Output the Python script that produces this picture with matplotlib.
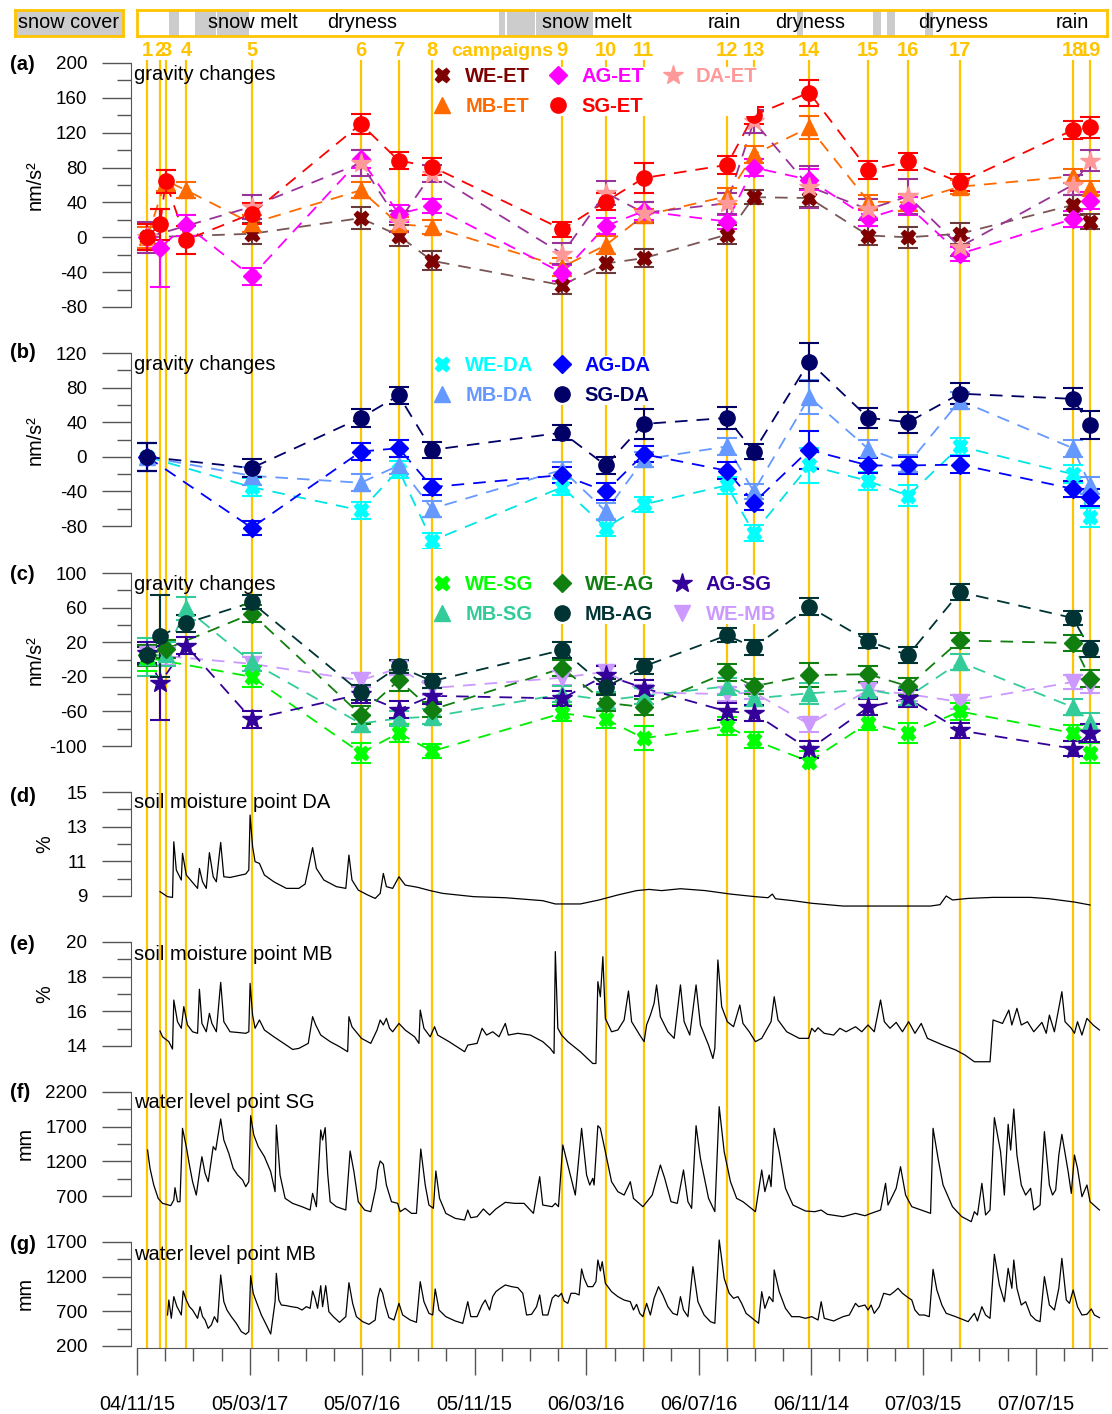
import numpy as np
import pandas as pd
import matplotlib
matplotlib.use("Agg")
import matplotlib.pyplot as plt
from matplotlib.lines import Line2D

plt.rcParams['font.family'] = ['Liberation Sans', 'DejaVu Sans']
plt.rcParams['axes.unicode_minus'] = False

nan = np.nan
t0 = pd.Timestamp('2004-11-15')

# ---------------- data ----------------
campaign_labels = [str(i) for i in range(1, 20)]
campaign_dates = pd.to_datetime([
    '2004-11-26', '2004-12-10', '2004-12-16', '2005-01-07', '2005-03-19',
    '2005-07-15', '2005-08-25', '2005-09-30', '2006-02-18', '2006-04-06',
    '2006-05-17', '2006-08-15', '2006-09-13', '2006-11-12', '2007-01-15',
    '2007-02-27', '2007-04-24', '2007-08-24', '2007-09-12'])

snow_start = pd.to_datetime(['2004-12-20', '2005-01-17', '2005-02-09', '2005-12-11',
                             '2005-12-20', '2006-01-21', '2006-02-17', '2006-10-30',
                             '2007-01-20', '2007-02-04', '2007-03-17'])
snow_end = pd.to_datetime(['2004-12-30', '2005-02-08', '2005-03-16', '2005-12-18',
                           '2006-01-19', '2006-02-16', '2006-03-23', '2006-11-05',
                           '2007-01-29', '2007-02-13', '2007-03-26'])
season_names = ['snow melt', 'dryness', 'snow melt', 'rain', 'dryness', 'dryness', 'rain']
season_dates = pd.to_datetime(['2005-03-20', '2005-07-17', '2006-03-16', '2006-08-12',
                               '2006-11-13', '2007-04-17', '2007-08-24'])

tick_labels = ['04/11/15', '05/03/17', '05/07/16', '05/11/15', '06/03/16',
               '06/07/16', '06/11/14', '07/03/15', '07/07/15']

# (a) gravity changes relative to ET, nm/s2, one value per campaign
we_et = [0, nan, nan, nan, 4, 22, 2, -27, -55, -30, -24, 3, 46, 45, 2, 0, 4, 37, 18]
ag_et = [0, -12, nan, 14, -45, 90, 27, 36, -41, 13, 30, 18, 80, 66, 22, 36, -19, 21, 42]
da_et = [0, nan, nan, nan, 35, 85, 18, 73, -19, 51, 28, 39, 133, 58, 32, 47, -11, 60, 88]
mb_et = [0, nan, 65, 54, 16, 54, 15, 12, -34, -9, 25, 47, 95, 126, 41, 40, 58, 70, 56]
sg_et = [0, 15, 64, -3, 27, 130, 88, 81, 9, 41, 68, 83, 140, 166, 77, 87, 63, 123, 126]
we_et_err = [15, 0, 0, 0, 12, 13, 12, 11, 10, 11, 10, 11, 8, 10, 11, 12, 12, 11, 9]
ag_et_err = [15, 45, 0, 12, 10, 10, 10, 8, 9, 9, 10, 8, 10, 12, 9, 10, 8, 9, 10]
da_et_err = [18, 0, 0, 0, 14, 15, 12, 10, 12, 14, 12, 12, 13, 24, 12, 20, 10, 12, 12]
mb_et_err = [12, 0, 12, 9, 10, 9, 8, 8, 10, 10, 8, 9, 10, 13, 8, 10, 8, 8, 8]
sg_et_err = [15, 18, 13, 16, 12, 12, 10, 10, 9, 10, 17, 10, 10, 15, 10, 10, 10, 10, 12]

# (b) gravity changes relative to DA
we_da = [0, nan, nan, nan, -35, -62, -15, -97, -35, -82, -55, -33, -88, -10, -28, -45, 12, -20, -70]
ag_da = [0, nan, nan, nan, -82, 6, 10, -35, -21, -40, 3, -16, -53, 8, -10, -10, -9, -37, -47]
mb_da = [0, nan, nan, nan, -22, -30, -10, -60, -15, -63, -3, 12, -40, 69, 9, -8, 65, 10, -33]
sg_da = [0, nan, nan, nan, -13, 45, 71, 8, 28, -10, 38, 45, 6, 110, 45, 40, 73, 67, 37]
we_da_err = [16, 0, 0, 0, 10, 10, 10, 9, 9, 10, 9, 10, 9, 20, 10, 12, 10, 10, 11]
ag_da_err = [16, 0, 0, 0, 8, 10, 10, 9, 9, 10, 9, 10, 9, 22, 9, 10, 10, 9, 10]
mb_da_err = [16, 0, 0, 0, 10, 10, 10, 9, 9, 10, 9, 10, 9, 20, 10, 10, 10, 10, 10]
sg_da_err = [16, 0, 0, 0, 10, 10, 10, 9, 9, 10, 17, 13, 9, 22, 12, 12, 12, 12, 16]

# (c) gravity differences between the other points
we_sg = [2, nan, nan, nan, -20, -108, -85, -106, -62, -69, -91, -77, -93, -118, -73, -85, -60, -85, -108]
we_ag = [5, nan, 12, nan, 53, -64, -24, -58, -10, -50, -55, -15, -31, -18, -17, -31, 22, 19, -22]
ag_sg = [8, -27, nan, 16, -69, -40, -58, -42, -45, -18, -33, -60, -62, -104, -55, -45, -82, -103, -85]
mb_sg = [3, nan, 6, 59, -3, -74, -68, -66, -40, -47, -42, -31, -45, -39, -35, -43, -3, -55, -72]
mb_ag = [5, 27, nan, 42, 66, -38, -8, -25, 11, -32, -8, 28, 14, 61, 21, 5, 78, 48, 12]
we_mb = [6, nan, 4, nan, -5, -24, -10, -33, -21, -14, -38, -40, -38, -75, -35, -40, -49, -26, -31]
we_sg_err = [15, 0, 0, 0, 12, 12, 10, 8, 9, 10, 14, 10, 9, 12, 9, 12, 10, 9, 12]
we_ag_err = [12, 0, 10, 0, 10, 10, 12, 9, 9, 10, 9, 10, 9, 14, 9, 10, 9, 9, 10]
ag_sg_err = [12, 43, 0, 10, 10, 10, 10, 9, 9, 10, 9, 10, 9, 10, 9, 10, 9, 9, 10]
mb_sg_err = [22, 0, 14, 13, 10, 10, 9, 9, 9, 10, 9, 10, 9, 12, 9, 10, 9, 9, 10]
mb_ag_err = [10, 47, 0, 10, 8, 9, 8, 8, 9, 9, 9, 8, 9, 10, 8, 9, 9, 8, 9]
we_mb_err = [10, 0, 10, 0, 8, 8, 8, 8, 8, 8, 8, 8, 8, 9, 8, 8, 8, 8, 8]

# (d) soil moisture point DA, % : (days since 15 Nov 2004, value)
sm_da_pts = [(24.9, 9.25), (33.0, 8.96), (38.4, 8.92), (39.8, 12.13), (42.5, 10.5), (47.9, 9.92),
             (49.2, 11.46), (53.3, 10.21), (65.5, 9.44), (67.5, 10.59), (70.9, 9.82), (74.9, 9.44),
             (78.3, 11.5), (82.4, 10.11), (85.8, 9.82), (90.5, 12.09), (93.9, 10.11), (100.6, 10.07),
             (110.8, 10.19), (117.6, 10.27), (120.9, 10.5), (122.3, 13.67), (125.0, 11.85),
             (127.7, 10.98), (132.4, 10.88), (137.8, 10.21), (148.0, 9.82), (161.5, 9.44),
             (175.0, 9.44), (181.8, 9.69), (189.9, 11.79), (194.0, 10.59), (202.1, 9.92),
             (215.6, 9.54), (225.8, 9.44), (229.2, 11.36), (232.5, 9.92), (239.3, 9.34),
             (249.4, 9.06), (257.6, 8.86), (263.0, 9.15), (266.4, 10.3), (269.7, 9.54),
             (276.5, 9.44), (283.3, 10.11), (290.0, 9.63), (303.6, 9.5), (317.1, 9.31),
             (330.6, 9.15), (364.4, 8.96), (398.3, 8.9), (438.8, 8.73), (452.4, 8.54),
             (479.4, 8.54), (499.7, 8.77), (520.0, 9.06), (540.3, 9.31), (553.8, 9.38),
             (567.4, 9.31), (587.7, 9.42), (614.7, 9.31), (641.8, 9.11), (668.8, 8.96),
             (682.4, 8.9), (687.1, 9.11), (690.5, 8.84), (709.4, 8.73), (729.7, 8.58),
             (763.5, 8.42), (858.2, 8.42), (868.4, 8.5), (875.1, 9.0), (881.9, 8.77),
             (898.8, 8.86), (925.8, 8.92), (966.4, 8.92), (986.7, 8.84), (1013.8, 8.65),
             (1030.7, 8.48)]

# (e) soil moisture point MB, %
sm_mb_pts = [(24.9, 14.86), (27.6, 14.53), (34.4, 14.25), (38.4, 13.82), (39.8, 16.65), (43.8, 15.40),
             (47.9, 15.02), (50.6, 16.27), (54.6, 15.21), (60.1, 14.82), (65.5, 14.73), (67.5, 17.27),
             (70.2, 15.30), (74.9, 14.82), (78.3, 15.88), (81.0, 15.30), (85.8, 14.82), (90.5, 17.67),
             (93.9, 15.40), (100.6, 14.82), (110.8, 14.77), (117.6, 14.73), (120.9, 14.82),
             (122.3, 17.61), (125.0, 15.78), (127.7, 15.02), (132.4, 15.50), (137.8, 14.92),
             (148.0, 14.53), (161.5, 14.05), (168.3, 13.80), (175.0, 13.86), (185.2, 14.15),
             (189.9, 15.69), (193.3, 15.21), (198.7, 14.63), (208.9, 14.25), (219.0, 13.96),
             (227.8, 13.67), (229.2, 15.69), (232.5, 15.11), (242.7, 14.44), (252.8, 14.15),
             (259.6, 14.92), (263.0, 15.50), (266.4, 15.21), (269.7, 15.59), (273.1, 15.02),
             (276.5, 14.82), (283.3, 15.30), (290.0, 14.92), (300.2, 14.53), (304.9, 14.15),
             (306.3, 16.07), (310.3, 15.02), (317.1, 14.53), (321.8, 15.11), (325.2, 14.63),
             (337.4, 14.25), (354.3, 13.67), (357.7, 14.05), (367.8, 14.15), (373.2, 15.02),
             (378.0, 14.63), (384.7, 14.82), (391.5, 14.53), (398.3, 15.30), (401.6, 14.63),
             (411.8, 14.73), (425.3, 14.63), (438.8, 14.25), (446.9, 13.86), (451.0, 13.57),
             (452.4, 19.44), (455.1, 15.02), (459.1, 14.63), (465.9, 14.25), (479.4, 13.67),
             (492.9, 12.99), (496.3, 12.99), (498.4, 17.71), (501.1, 16.84), (503.8, 19.15),
             (506.5, 15.59), (513.2, 14.82), (520.0, 14.92), (526.8, 15.50), (531.5, 17.17),
             (534.9, 15.40), (543.7, 14.63), (548.4, 14.25), (551.1, 15.21), (555.2, 15.78),
             (559.2, 16.46), (561.9, 17.52), (566.0, 15.69), (574.1, 14.82), (580.9, 14.44),
             (587.7, 17.52), (591.7, 15.40), (597.8, 14.63), (604.6, 17.52), (609.3, 15.21),
             (618.1, 14.05), (622.8, 13.28), (624.9, 13.86), (628.2, 18.96), (632.3, 16.27),
             (638.4, 15.40), (645.1, 15.11), (651.9, 16.36), (655.3, 15.30), (662.1, 14.82),
             (668.8, 14.25), (675.6, 14.44), (685.7, 15.40), (689.1, 16.84), (693.2, 15.50),
             (702.6, 14.82), (716.2, 14.44), (726.3, 14.44), (729.7, 15.02), (733.1, 14.82),
             (736.5, 15.05), (743.2, 14.73), (753.4, 14.63), (760.1, 15.02), (766.9, 14.82),
             (777.0, 15.11), (783.8, 14.82), (790.6, 15.21), (797.3, 14.82), (804.1, 16.65),
             (808.2, 15.40), (814.3, 15.02), (821.0, 15.36), (827.8, 14.82), (834.5, 15.40),
             (841.3, 14.73), (848.1, 15.30), (854.8, 14.44), (871.7, 14.05), (885.3, 13.77),
             (895.4, 13.48), (905.6, 13.09), (922.5, 13.09), (925.8, 15.50), (936.0, 15.30),
             (942.8, 16.07), (946.1, 15.21), (951.6, 16.17), (956.3, 15.21), (963.0, 15.40),
             (969.8, 14.82), (978.6, 15.36), (983.3, 14.73), (986.7, 15.78), (992.1, 14.82),
             (1000.2, 17.13), (1003.6, 15.40), (1010.4, 15.02), (1013.8, 14.73), (1017.1, 15.40),
             (1021.9, 14.63), (1027.3, 15.59), (1034.0, 15.21), (1040.8, 14.92)]

# (f) water level point SG, mm
wl_sg_pts = [(11.4, 1363), (14.1, 1099), (18.1, 859), (22.9, 666), (27.6, 594), (31.7, 580),
             (36.4, 561), (39.8, 642), (41.1, 820), (43.8, 618), (46.5, 618), (49.2, 1676),
             (53.3, 1412), (56.7, 1147), (60.1, 907), (64.1, 714), (68.2, 1099), (70.2, 1267),
             (73.6, 1027), (77.0, 907), (80.4, 1219), (82.4, 1412), (85.1, 1363), (87.1, 1532),
             (90.5, 1811), (93.9, 1508), (99.3, 1315), (104.0, 1099), (108.8, 1003), (114.2, 931),
             (117.6, 835), (120.9, 907), (122.9, 1859), (126.3, 1580), (131.1, 1412), (137.8, 1267),
             (144.6, 1051), (149.3, 763), (150.7, 1724), (154.7, 1003), (160.2, 666), (168.3, 594),
             (178.4, 546), (187.2, 498), (189.9, 738), (194.0, 546), (198.7, 1652), (200.7, 1508),
             (203.5, 1686), (206.2, 1027), (208.9, 618), (215.6, 546), (225.8, 498), (230.5, 1349),
             (234.6, 1051), (239.3, 618), (246.1, 498), (252.8, 474), (258.2, 811), (260.3, 1075),
             (263.0, 1205), (266.4, 1157), (269.7, 859), (275.2, 618), (281.9, 594), (284.6, 474),
             (290.0, 522), (296.8, 450), (302.2, 450), (306.9, 1378), (311.7, 859), (315.7, 570),
             (320.5, 522), (323.2, 1061), (327.2, 666), (334.0, 450), (344.1, 378), (354.3, 354),
             (357.7, 498), (361.0, 387), (367.8, 402), (374.6, 513), (381.3, 426), (388.1, 513),
             (398.3, 609), (408.4, 594), (418.6, 594), (428.7, 450), (435.5, 979), (438.8, 570),
             (449.0, 546), (452.4, 594), (455.8, 546), (460.5, 1436), (465.9, 1147), (474.0, 714),
             (480.8, 1676), (486.2, 1003), (489.6, 859), (492.9, 955), (494.3, 859), (498.4, 1714),
             (501.1, 1676), (506.5, 1339), (513.2, 907), (520.0, 763), (526.8, 714), (533.5, 907),
             (536.9, 666), (547.1, 546), (557.2, 714), (566.0, 1147), (570.7, 955), (577.5, 618),
             (584.3, 594), (591.0, 1075), (595.8, 618), (599.8, 522), (604.6, 1714), (609.3, 1243),
             (618.1, 666), (624.9, 474), (629.6, 1988), (635.0, 1339), (641.8, 907), (648.5, 666),
             (655.3, 618), (662.1, 546), (668.8, 474), (675.6, 1075), (679.0, 763), (683.7, 1003),
             (685.7, 835), (689.1, 1676), (694.5, 1339), (701.3, 811), (709.4, 570), (722.9, 484),
             (733.1, 474), (739.9, 498), (746.6, 436), (763.5, 402), (777.0, 450), (787.2, 416),
             (793.9, 450), (804.1, 498), (809.5, 883), (812.2, 570), (821.0, 811), (825.7, 1123),
             (831.2, 714), (837.9, 546), (848.1, 498), (858.2, 450), (860.9, 1676), (866.3, 1243),
             (871.7, 859), (881.9, 546), (892.0, 402), (902.2, 330), (905.6, 474), (908.9, 426),
             (913.7, 883), (917.7, 426), (922.5, 498), (927.2, 1830), (933.9, 1339), (938.0, 714),
             (942.1, 1734), (944.8, 1363), (948.2, 1955), (951.6, 1291), (956.3, 859), (961.0, 714),
             (966.4, 811), (969.8, 498), (976.6, 570), (981.3, 1628), (986.7, 859), (990.1, 714),
             (993.5, 787), (996.9, 1291), (1000.2, 1589), (1007.0, 1051), (1010.4, 738),
             (1013.8, 1291), (1017.1, 1099), (1021.9, 690), (1027.3, 859), (1030.7, 618),
             (1040.8, 498)]

# (g) water level point MB, mm
wl_mb_pts = [(33.0, 647), (34.4, 863), (37.1, 599), (39.8, 912), (43.2, 767), (45.2, 719),
             (47.9, 647), (49.9, 993), (53.3, 863), (56.7, 767), (60.1, 719), (63.4, 647),
             (65.5, 599), (68.2, 767), (70.9, 623), (73.6, 575), (77.0, 455), (80.4, 503),
             (83.7, 623), (87.1, 541), (90.5, 1224), (93.9, 839), (97.3, 719), (102.0, 623),
             (107.4, 527), (112.8, 407), (117.6, 368), (120.9, 407), (122.9, 1214), (125.7, 960),
             (129.7, 815), (134.5, 647), (139.9, 503), (144.6, 373), (149.3, 839), (150.7, 1248),
             (153.4, 863), (156.1, 791), (161.5, 782), (166.9, 767), (173.7, 753), (178.4, 719),
             (183.2, 767), (187.2, 743), (189.9, 993), (192.6, 888), (195.3, 743), (198.7, 1070),
             (200.7, 767), (204.1, 1070), (207.5, 695), (212.3, 623), (219.0, 541), (225.8, 623),
             (229.2, 1113), (233.2, 815), (237.3, 623), (244.0, 551), (250.8, 512), (257.6, 575),
             (260.3, 888), (263.0, 1032), (265.7, 960), (268.4, 791), (272.4, 609), (277.9, 575),
             (283.3, 815), (287.3, 647), (295.4, 575), (302.2, 541), (306.3, 1128), (310.3, 839),
             (315.7, 671), (319.8, 647), (322.5, 1022), (326.6, 719), (334.0, 623), (344.1, 561),
             (352.3, 527), (357.7, 839), (361.0, 623), (367.8, 623), (373.2, 791), (376.6, 863),
             (381.3, 719), (384.7, 912), (388.1, 984), (392.9, 1032), (398.3, 1080), (405.0, 1056),
             (411.8, 1041), (417.2, 960), (421.3, 647), (426.7, 657), (432.1, 767), (435.5, 936),
             (438.8, 647), (444.3, 647), (449.0, 888), (452.4, 936), (455.8, 912), (459.1, 960),
             (461.8, 849), (465.9, 815), (469.3, 960), (474.0, 960), (478.1, 936), (480.8, 1311),
             (483.5, 1176), (487.5, 1056), (492.9, 1056), (496.3, 1128), (498.4, 1440),
             (501.1, 1282), (503.1, 1416), (506.5, 1104), (513.2, 984), (520.0, 912), (526.8, 863),
             (533.5, 839), (536.9, 719), (540.3, 801), (543.7, 671), (547.1, 623), (551.1, 815),
             (555.2, 647), (559.2, 888), (564.0, 1056), (568.7, 936), (574.1, 767), (579.5, 671),
             (584.3, 647), (587.7, 912), (591.0, 719), (595.8, 623), (601.2, 1344), (606.6, 839),
             (613.3, 647), (620.1, 551), (624.9, 527), (629.6, 1729), (635.0, 1176), (640.4, 960),
             (645.1, 888), (649.9, 912), (653.9, 815), (658.7, 671), (665.4, 599), (672.2, 527),
             (675.6, 984), (679.0, 743), (683.7, 912), (687.8, 839), (689.1, 1296), (694.5, 984),
             (701.3, 743), (708.0, 623), (716.2, 623), (722.9, 599), (729.7, 623), (736.5, 575),
             (739.9, 839), (743.2, 599), (753.4, 561), (763.5, 623), (770.3, 647), (777.0, 815),
             (780.4, 767), (787.2, 791), (790.6, 719), (793.9, 791), (797.3, 671), (802.7, 767),
             (807.5, 960), (814.3, 936), (819.0, 984), (823.0, 1032), (827.8, 960), (832.5, 912),
             (837.9, 863), (841.3, 719), (846.0, 647), (851.4, 647), (856.8, 623), (860.9, 1306),
             (865.0, 1008), (870.4, 791), (875.1, 671), (885.3, 623), (898.8, 551), (905.6, 671),
             (908.9, 561), (913.7, 767), (917.7, 647), (922.5, 599), (927.2, 1522), (932.6, 1080),
             (938.0, 839), (942.1, 1320), (946.1, 1032), (948.2, 1440), (951.6, 1032), (956.3, 791),
             (961.0, 839), (966.4, 647), (971.9, 575), (976.6, 551), (981.3, 1200), (986.7, 791),
             (992.1, 719), (996.9, 1032), (1000.2, 1464), (1005.0, 863), (1008.4, 815),
             (1012.4, 1008), (1017.1, 767), (1021.9, 647), (1027.3, 657), (1032.0, 734),
             (1035.4, 647), (1040.8, 609)]

# ---------------- layout helpers ----------------
W, H = 1112, 1414
fig = plt.figure(figsize=(W / 100, H / 100), dpi=100)
fig.patch.set_facecolor('white')


def box(x0, y0, x1, y1):
    return [x0 / W, 1 - y1 / H, (x1 - x0) / W, (y1 - y0) / H]


def ftext(x, y, s, **kw):
    fig.text(x / W, 1 - y / H, s, **kw)


GOLD = '#FFC400'
AX = '#555555'
FS = 13.5
FT = 14.3
xmin, xmax = t0, pd.Timestamp('2007-09-30')


def to_dates(days):
    return t0 + pd.to_timedelta(np.array(days, float), unit='D')


def style_panel(ax, ylim, lo, hi, major, minor):
    ax.set_xlim(xmin, xmax)
    ax.set_ylim(*ylim)
    for s in ['top', 'right', 'bottom']:
        ax.spines[s].set_visible(False)
    sp = ax.spines['left']
    sp.set_position(('outward', 4))
    sp.set_bounds(lo, hi)
    sp.set_color(AX)
    ax.set_yticks(np.arange(lo, hi + 0.01, major))
    ax.set_yticks(np.arange(lo, hi + 0.01, minor), minor=True)
    ax.tick_params(axis='y', which='major', length=21, width=1, color=AX, pad=11, labelsize=FS)
    ax.tick_params(axis='y', which='minor', length=10, width=1, color=AX)
    ax.tick_params(axis='x', which='both', bottom=False, labelbottom=False)
    ax.patch.set_alpha(0)
    for d in campaign_dates:
        ax.axvline(d, color=GOLD, lw=1.6, zorder=1)


def grav(ax, vals, errs, marker, ms, mcol, lcol, ecol):
    v = np.array(vals, float)
    e = np.array(errs, float)
    ok = ~np.isnan(v)
    d = campaign_dates[ok]
    ax.plot(d, v[ok], ls=(0, (7, 5)), lw=1.3, color=lcol, zorder=3)
    ax.errorbar(d, v[ok], yerr=e[ok], fmt='none', ecolor=ecol, elinewidth=1.5,
                capsize=7, capthick=1.5, zorder=4)
    ax.plot(d, v[ok], ls='none', marker=marker, ms=ms, color=mcol, mec=mcol, zorder=5)


def add_legend(ax, entries, ncol, x, y):
    handles = [Line2D([], [], ls='none', marker=m, ms=s, color=c, mec=c) for _, m, s, c in entries]
    labels = [lab for lab, _, _, _ in entries]
    leg = ax.legend(handles, labels, ncol=ncol, loc='upper left',
                    bbox_to_anchor=(x / W, 1 - y / H), bbox_transform=fig.transFigure,
                    frameon=True, facecolor='white', edgecolor='none', framealpha=1,
                    borderpad=0.0, borderaxespad=0, handlelength=0.7, handletextpad=0.8,
                    columnspacing=1.05, labelspacing=0.55,
                    prop={'weight': 'bold', 'size': 14.5},
                    labelcolor=[c for _, _, _, c in entries])
    leg.set_zorder(10)


# ---------------- top bar ----------------
ax_top = fig.add_axes(box(137, 10, 1107, 36))
ax_top.set_xlim(xmin, xmax)
ax_top.set_ylim(0, 1)
for s0, s1 in zip(snow_start, snow_end):
    ax_top.axvspan(s0, s1, color='#CCCCCC', lw=0)
for name, d in zip(season_names, season_dates):
    ax_top.text(d, 0.5, name, ha='center', va='center', fontsize=FT)
ax_top.set_xticks([])
ax_top.set_yticks([])
for s in ax_top.spines.values():
    s.set_color(GOLD)
    s.set_linewidth(2)

ax_sc = fig.add_axes(box(15, 10, 123, 36))
ax_sc.set_facecolor('#CCCCCC')
ax_sc.set_xticks([])
ax_sc.set_yticks([])
for s in ax_sc.spines.values():
    s.set_color(GOLD)
    s.set_linewidth(2)
ax_sc.text(0.5, 0.5, 'snow cover', ha='center', va='center', fontsize=FT, transform=ax_sc.transAxes)

# ---------------- panels ----------------
ax_a = fig.add_axes(box(137, 60, 1107, 330))
ax_b = fig.add_axes(box(137, 330, 1107, 548))
ax_c = fig.add_axes(box(137, 548, 1107, 770))
ax_d = fig.add_axes(box(137, 770, 1107, 918))
ax_e = fig.add_axes(box(137, 918, 1107, 1068))
ax_f = fig.add_axes(box(137, 1068, 1107, 1218))
ax_g = fig.add_axes(box(137, 1218, 1107, 1348))

style_panel(ax_a, (-106.4, 203.4), -80, 200, 40, 20)
style_panel(ax_b, (-105.4, 146.6), -80, 120, 40, 20)
style_panel(ax_c, (-127.7, 128.9), -100, 100, 40, 20)
style_panel(ax_d, (7.73, 16.27), 9, 15, 2, 1)
style_panel(ax_e, (12.73, 21.38), 14, 20, 2, 1)
style_panel(ax_f, (383, 2546), 700, 2200, 500, 250)
style_panel(ax_g, (171, 2046), 200, 1700, 500, 250)

# campaign numbers
for lab, d in zip(campaign_labels, campaign_dates):
    ax_a.text(d, 1 + 9 / 270, lab, transform=ax_a.get_xaxis_transform(), ha='center', va='center',
              color=GOLD, fontsize=14.5, fontweight='bold')
ftext(451, 51, 'campaigns', ha='left', va='center', color=GOLD, fontsize=14, fontweight='bold')

# (a)
c_we, c_we_l = '#7F0000', '#7A5555'
grav(ax_a, we_et, we_et_err, 'X', 10.5, c_we, c_we_l, '#6B3A3A')
grav(ax_a, mb_et, mb_et_err, '^', 11, '#FF6A00', '#FF6A00', '#FF6A00')
grav(ax_a, ag_et, ag_et_err, 'D', 9, '#FF00FF', '#FF00FF', '#FF00FF')
grav(ax_a, da_et, da_et_err, '*', 15, '#FF9999', '#993399', '#993399')
grav(ax_a, sg_et, sg_et_err, 'o', 11, '#FF0000', '#FF0000', '#FF0000')
add_legend(ax_a, [('WE-ET', 'X', 10.5, c_we), ('MB-ET', '^', 11, '#FF6A00'),
                  ('AG-ET', 'D', 9, '#FF00FF'), ('SG-ET', 'o', 11, '#FF0000'),
                  ('DA-ET', '*', 15, '#FF9999')], 3, 435, 67)

# (b)
grav(ax_b, we_da, we_da_err, 'X', 10.5, '#00FFFF', '#00E5E5', '#00FFFF')
grav(ax_b, mb_da, mb_da_err, '^', 11, '#6699FF', '#6699FF', '#6699FF')
grav(ax_b, ag_da, ag_da_err, 'D', 9, '#0000FF', '#0000FF', '#0000FF')
grav(ax_b, sg_da, sg_da_err, 'o', 11, '#000066', '#000066', '#000066')
add_legend(ax_b, [('WE-DA', 'X', 10.5, '#00FFFF'), ('MB-DA', '^', 11, '#6699FF'),
                  ('AG-DA', 'D', 9, '#0000FF'), ('SG-DA', 'o', 11, '#000066')], 2, 435, 356)

# (c)
grav(ax_c, we_mb, we_mb_err, 'v', 11, '#CC99FF', '#CC99FF', '#CC99FF')
grav(ax_c, mb_sg, mb_sg_err, '^', 11, '#33CC99', '#33CC99', '#33CC99')
grav(ax_c, we_sg, we_sg_err, 'X', 10.5, '#00FF00', '#00EE00', '#00FF00')
grav(ax_c, ag_sg, ag_sg_err, '*', 15, '#330099', '#330099', '#330099')
grav(ax_c, we_ag, we_ag_err, 'D', 9, '#107F10', '#107F10', '#107F10')
grav(ax_c, mb_ag, mb_ag_err, 'o', 11, '#003333', '#003333', '#003333')
add_legend(ax_c, [('WE-SG', 'X', 10.5, '#00FF00'), ('MB-SG', '^', 11, '#33CC99'),
                  ('WE-AG', 'D', 9, '#107F10'), ('MB-AG', 'o', 11, '#003333'),
                  ('AG-SG', '*', 15, '#330099'), ('WE-MB', 'v', 11, '#CC99FF')], 3, 435, 575)

# (d)-(g) time series
for ax, pts in [(ax_d, sm_da_pts), (ax_e, sm_mb_pts), (ax_f, wl_sg_pts), (ax_g, wl_mb_pts)]:
    days, vals = zip(*pts)
    ax.plot(to_dates(days), vals, color='black', lw=0.9, zorder=3, clip_on=False)

# bottom date axis
major = pd.to_datetime(tick_labels, format='%y/%m/%d')
step = (major[-1] - major[0]) / (len(major) - 1) / 4
minor = []
for a, b in zip(major[:-1], major[1:]):
    minor += [a + (b - a) * k / 4 for k in (1, 2, 3)]
d = major[-1] + step
while d <= xmax:
    minor.append(d)
    d += step
ax_g.spines['bottom'].set_visible(True)
ax_g.spines['bottom'].set_color(AX)
ax_g.set_xticks(major)
ax_g.set_xticklabels(tick_labels)
ax_g.set_xticks(minor, minor=True)
ax_g.tick_params(axis='x', which='major', bottom=True, labelbottom=True, length=19.5,
                 width=1, color=AX, pad=14, labelsize=FT)
ax_g.tick_params(axis='x', which='minor', bottom=True, length=9, width=1, color=AX)

# panel letters, titles and units
for lab, y in [('(a)', 65), ('(b)', 353), ('(c)', 575), ('(d)', 796), ('(e)', 945),
               ('(f)', 1093), ('(g)', 1244)]:
    ftext(10, y, lab, ha='left', va='center', fontsize=14.5, fontweight='bold')
for txt, y in [('gravity changes', 75), ('gravity changes', 364), ('gravity changes', 584),
               ('soil moisture point DA', 803), ('soil moisture point MB', 954),
               ('water level point SG', 1103), ('water level point MB', 1254)]:
    ftext(134, y, txt, ha='left', va='center', fontsize=14.5)
for txt, x, y in [('nm/s²', 35, 185), ('nm/s²', 35, 440), ('nm/s²', 35, 660),
                  ('%', 45, 844), ('%', 45, 994), ('mm', 25, 1144), ('mm', 25, 1294)]:
    ftext(x, y, txt, ha='center', va='center', rotation=90, fontsize=FT)

fig.savefig('out.png', dpi=100)
